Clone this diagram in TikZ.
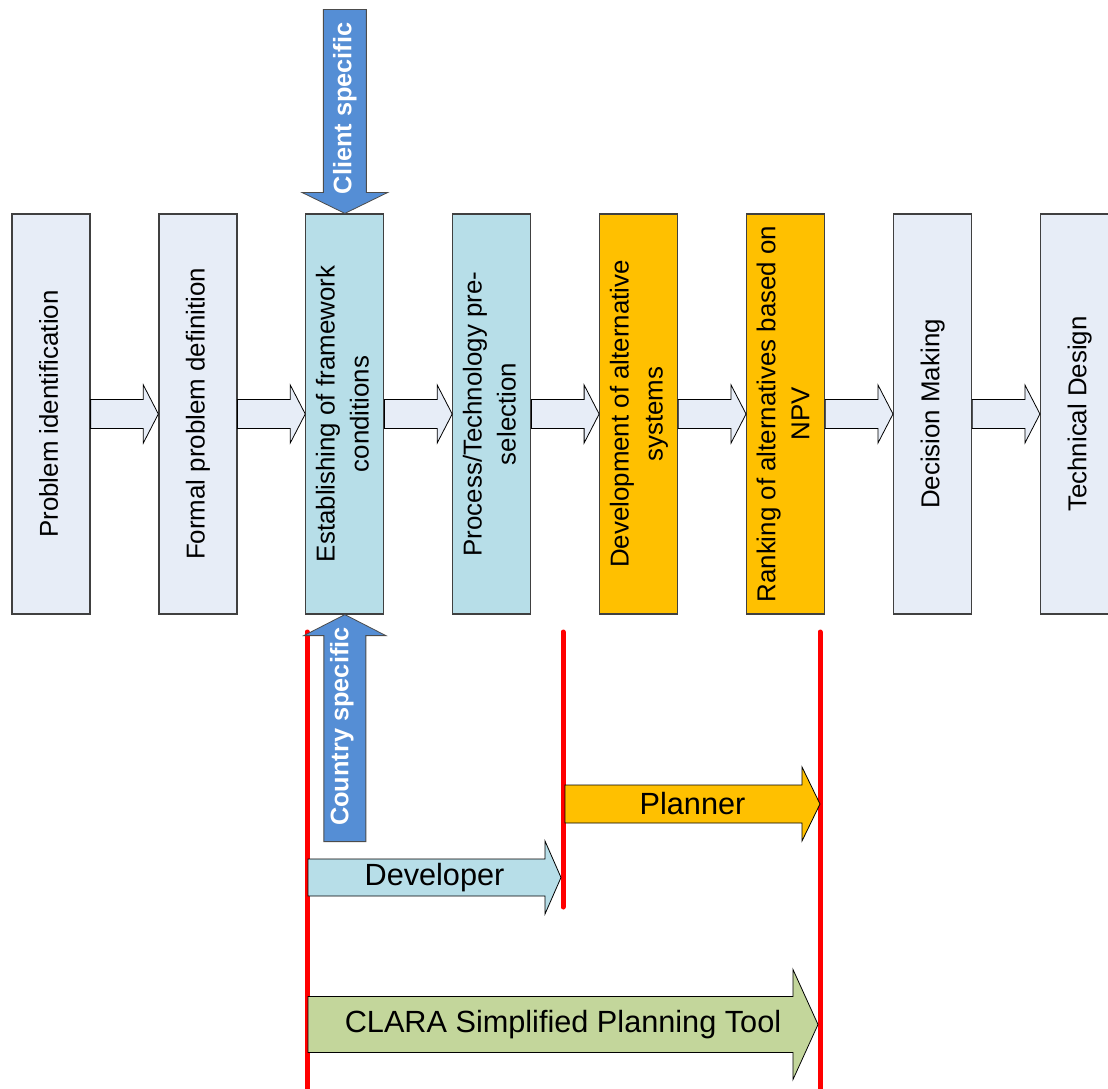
\documentclass[tikz,border=0pt]{standalone}
\usepackage{fontspec}
\setmainfont{Liberation Sans}
\usepackage{graphicx}
\usetikzlibrary{positioning,calc}
\tikzset{every picture/.style={line width=0.75pt}}

\definecolor{stepgrey}{RGB}{231,237,247}
\definecolor{stepblue}{RGB}{183,222,232}
\definecolor{steporange}{RGB}{255,192,0}
\definecolor{toolgreen}{RGB}{195,214,155}
\definecolor{inputblue}{RGB}{85,142,213}

\tikzset{
  stepbox/.style={draw=black!75, line width=0.9pt, minimum width=58.5pt, minimum height=300pt, inner sep=0pt},
  flowarrow/.style={draw=black, line width=0.6pt, fill=stepgrey},
  inputarrow/.style={draw=black!70, line width=0.6pt, fill=inputblue},
  inputlabel/.style={rotate=90, text=white, inner sep=0pt, font=\fontsize{19}{22}\selectfont\bfseries},
  rolearrow/.style={draw=black, line width=0.6pt},
  rolelabel/.style={inner sep=0pt, font=\fontsize{23}{27}\selectfont},
  redline/.style={draw=red, line width=3.75pt, line cap=round}
}

% rotated (bottom to top) text of a step
\newcommand{\vtext}[1]{\rotatebox{90}{\fontsize{19.4}{25.5}\selectfont\begin{tabular}{@{}c@{}}#1\end{tabular}}}
% block arrow: style, start, tip, shaft half width, head half width, head length
\newcommand{\bararrow}[6]{%
  \draw[#1] ($(#2)+(0,-#4)$) -- ($(#3)+(-#6,-#4)$) -- ($(#3)+(-#6,-#5)$) -- (#3)
    -- ($(#3)+(-#6,#5)$) -- ($(#3)+(-#6,#4)$) -- ($(#2)+(0,#4)$) -- cycle;}

\begin{document}
\begin{tikzpicture}[x=0.75pt,y=0.75pt,yscale=-1,xscale=1,node distance=50.8pt]
\clip (0,0) rectangle (1108,1089);

% steps
\node[stepbox, fill=stepgrey] (b1) at (51,414) {\vtext{Problem identification}};
\node[stepbox, fill=stepgrey, right=of b1] (b2) {\vtext{Formal problem definition}};
\node[stepbox, fill=stepblue, right=of b2] (b3) {\vtext{Establishing of framework\\conditions}};
\node[stepbox, fill=stepblue, right=of b3] (b4) {\vtext{Process/Technology pre-\\selection}};
\node[stepbox, fill=steporange, right=of b4] (b5) {\vtext{Development of alternative\\systems}};
\node[stepbox, fill=steporange, right=of b5] (b6) {\vtext{Ranking of alternatives based on\\NPV}};
\node[stepbox, fill=stepgrey, right=of b6] (b7) {\vtext{Decision Making}};
\node[stepbox, fill=stepgrey, right=of b7] (b8) {\vtext{Technical Design}};

% flow between steps
\foreach \a/\b in {b1/b2,b2/b3,b3/b4,b4/b5,b5/b6,b6/b7,b7/b8}
  {\bararrow{flowarrow}{\a.east}{\b.west}{14.5}{29}{15}}

% boundaries
\coordinate (r1top) at (307,632);
\coordinate (r1bot) at (307,1100);
\coordinate (r2top) at (563,632);
\coordinate (r2bot) at (563,907);
\coordinate (r3top) at (820,632);
\coordinate (r3bot) at (820,1100);
\draw[redline] (r1top) -- (r1bot);
\draw[redline] (r2top) -- (r2bot);
\draw[redline] (r3top) -- (r3bot);

% inputs to framework conditions
\draw[inputarrow] (b3.north) -- ++(-43,-21) -- ++(21.5,0) -- ++(0,-183) -- ++(43,0) -- ++(0,183) -- ++(21.5,0) -- cycle;
\node[inputlabel] (client) at ($(b3.north)+(0,-105)$) {Client specific};
\draw[inputarrow] (b3.south) -- ++(-41,21) -- ++(20,0) -- ++(0,206) -- ++(42,0) -- ++(0,-206) -- ++(20,0) -- cycle;
\node[inputlabel] (country) at ($(b3.south)+(-3,112)$) {Country specific};

% roles
\coordinate (devs) at (308,877.5);
\coordinate (deve) at (561,877.5);
\bararrow{rolearrow, fill=stepblue}{devs}{deve}{18.5}{36.5}{16}
\node[rolelabel] (developer) at ($(devs)!0.5!(deve)$) {Developer};

\coordinate (plans) at (565,804);
\coordinate (plane) at (820,804);
\bararrow{rolearrow, fill=steporange}{plans}{plane}{19}{37}{18}
\node[rolelabel] (planner) at ($(plans)!0.5!(plane)$) {Planner};

\coordinate (clas) at (308,1024.5);
\coordinate (clae) at (818,1024.5);
\bararrow{rolearrow, fill=toolgreen}{clas}{clae}{28}{55}{25}
\node[rolelabel] (clara) at ($(clas)!0.5!(clae)$) {CLARA Simplified Planning Tool};

\end{tikzpicture}
\end{document}
